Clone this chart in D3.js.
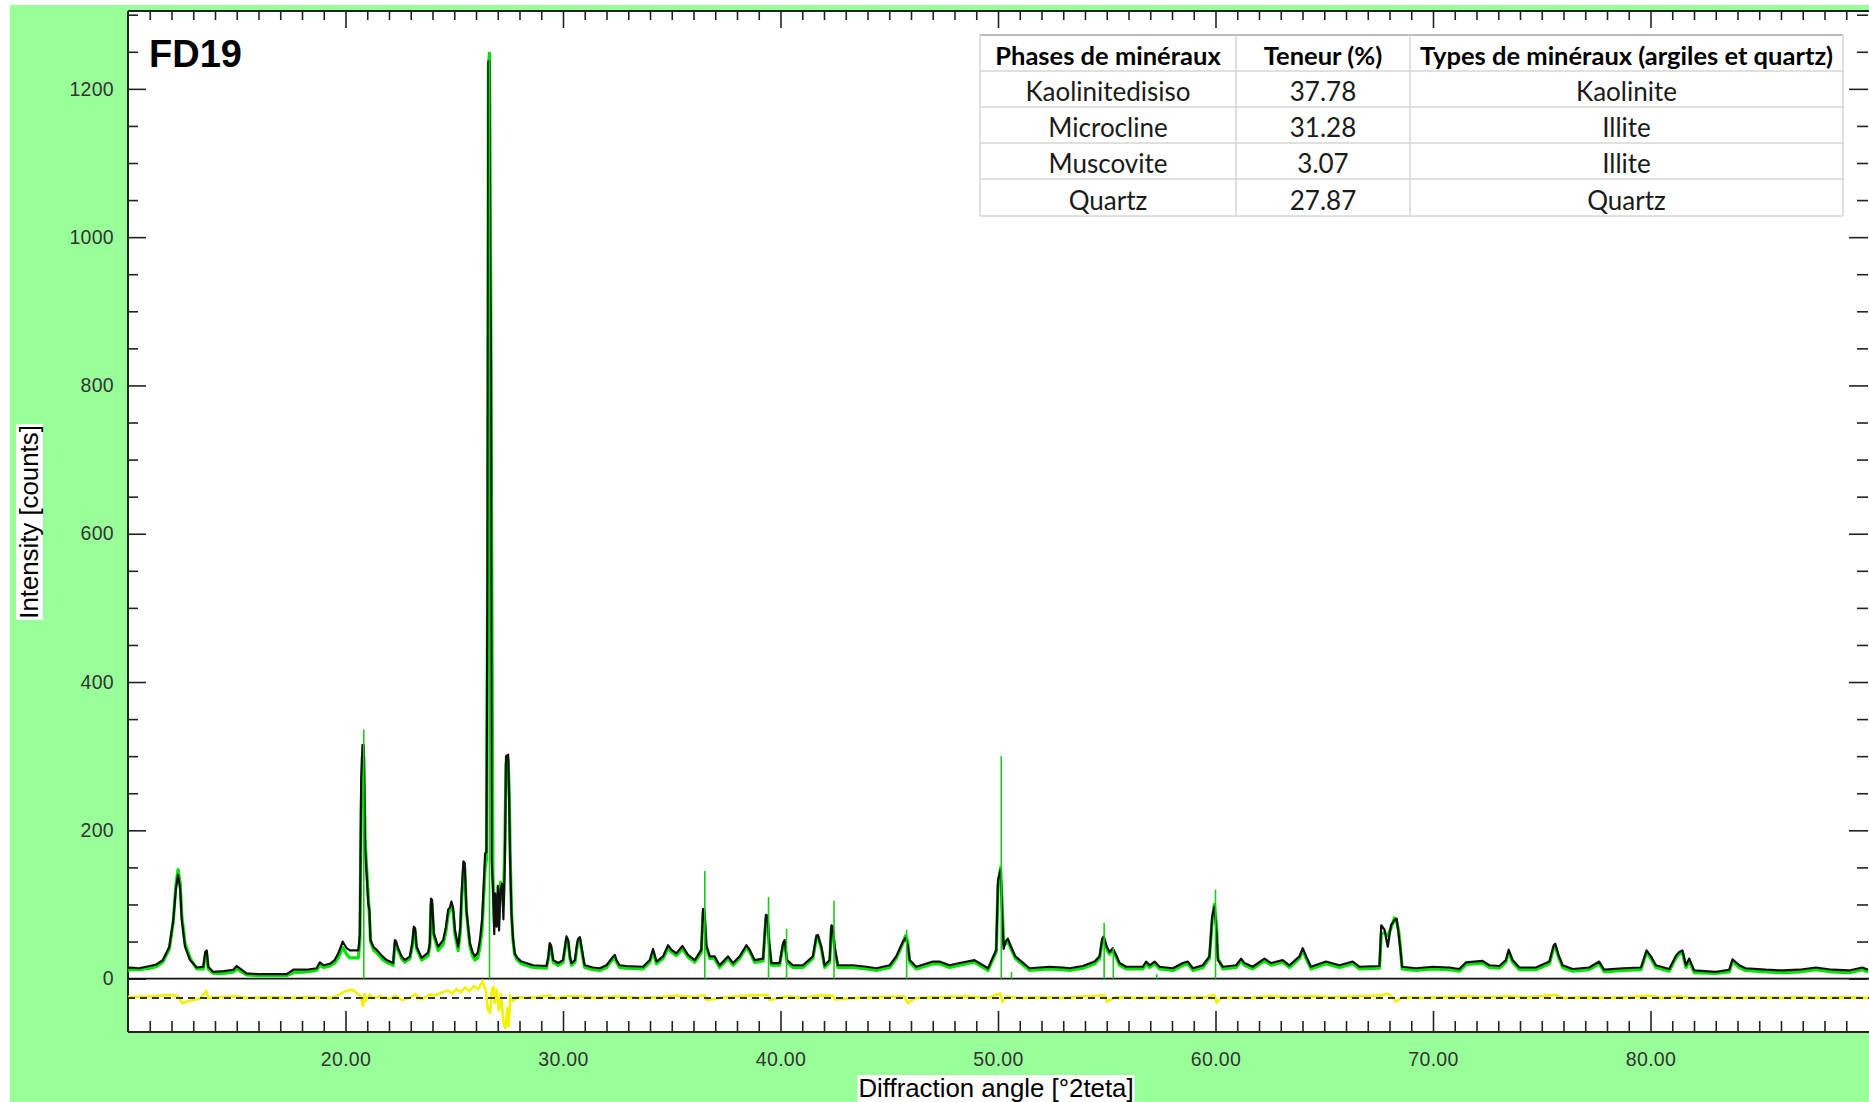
<!DOCTYPE html>
<html lang="en">
<head>
<meta charset="UTF-8">
<title>FD19 - diffractogramme</title>
<script src="https://d3js.org/d3.v7.min.js"></script>
<style>
  body { margin:0; background:#fff; }
  .tick text { font-family:"Liberation Sans", Arial, sans-serif; font-size:19.5px; fill:#333; letter-spacing:0.3px; }
  .tbl { font-family:Lato, "Open Sans", sans-serif; font-size:26px; fill:#1a1a1a; }
  .tbl.head { font-weight:bold; fill:#000; font-size:25.5px; }
</style>
</head>
<body>
<script>
// ---- data ----
var sampleName = "FD19";

var twoTheta = [
  10.0, 10.1, 10.5, 11.0, 11.3, 11.6, 11.9, 12.08, 12.2, 12.3,
  12.4, 12.47, 12.62, 12.85, 13.16, 13.46, 13.55, 13.62, 13.69, 13.92,
  14.4, 14.84, 15.0, 15.22, 15.45, 16.0, 16.6, 17.3, 17.6, 18.2,
  18.67, 18.82, 19.0, 19.28, 19.5, 19.67, 19.87, 20.05, 20.2, 20.59,
  20.66, 20.72, 20.78, 20.84, 20.9, 20.97, 21.05, 21.1, 21.15, 21.3,
  21.43, 21.7, 21.89, 22.19, 22.24, 22.27, 22.33, 22.39, 22.58, 22.73,
  22.96, 23.08, 23.14, 23.2, 23.27, 23.5, 23.8, 23.88, 23.93, 23.98,
  24.06, 24.26, 24.49, 24.62, 24.72, 24.8, 24.87, 24.95, 25.03, 25.18,
  25.28, 25.33, 25.42, 25.48, 25.56, 25.64, 25.72, 25.85, 25.95, 26.08,
  26.18, 26.28, 26.33, 26.42, 26.48, 26.53, 26.57, 26.62, 26.65, 26.69,
  26.72, 26.78, 26.84, 26.88, 26.95, 27.0, 27.06, 27.12, 27.2, 27.26,
  27.33, 27.38, 27.48, 27.53, 27.57, 27.63, 27.7, 27.78, 27.9, 28.09,
  28.63, 29.24, 29.33, 29.39, 29.45, 29.55, 29.78, 30.0, 30.1, 30.16,
  30.24, 30.32, 30.39, 30.55, 30.65, 30.7, 30.78, 30.85, 30.95, 31.0,
  31.38, 31.69, 32.0, 32.23, 32.38, 32.46, 32.6, 32.9, 33.68, 33.99,
  34.14, 34.3, 34.6, 34.83, 34.98, 35.21, 35.49, 35.75, 36.06, 36.36,
  36.44, 36.5, 36.59, 36.75, 36.97, 37.2, 37.59, 37.82, 38.12, 38.43,
  38.58, 38.81, 39.2, 39.33, 39.4, 39.47, 39.58, 39.96, 40.12, 40.19,
  40.3, 40.57, 41.03, 41.49, 41.65, 41.72, 41.88, 42.03, 42.26, 42.34,
  42.4, 42.49, 42.64, 43.33, 43.95, 44.4, 45.02, 45.32, 45.63, 45.75,
  45.85, 45.94, 46.24, 47.01, 47.31, 47.77, 48.23, 48.92, 49.54, 49.92,
  50.0, 50.12, 50.2, 50.26, 50.35, 50.45, 50.6, 50.8, 51.0, 51.45,
  52.37, 52.98, 53.29, 53.9, 54.44, 54.67, 54.79, 54.86, 55.0, 55.13,
  55.28, 55.43, 55.59, 55.89, 56.66, 56.81, 56.97, 57.2, 57.43, 58.04,
  58.5, 58.73, 58.96, 59.42, 59.72, 59.85, 59.95, 60.05, 60.11, 60.34,
  60.95, 61.18, 61.33, 61.71, 62.25, 62.56, 63.09, 63.4, 63.86, 64.01,
  64.17, 64.39, 65.08, 65.7, 66.31, 66.62, 67.54, 67.62, 67.77, 67.92,
  68.07, 68.23, 68.33, 68.42, 68.5, 68.58, 69.22, 69.99, 70.75, 71.21,
  71.52, 72.28, 72.59, 73.05, 73.35, 73.48, 73.66, 73.97, 74.73, 75.35,
  75.55, 75.62, 75.77, 75.96, 76.42, 77.18, 77.64, 77.87, 78.72, 79.56,
  79.82, 80.02, 80.25, 80.86, 81.17, 81.32, 81.47, 81.63, 81.78, 82.01,
  83.0, 83.62, 83.77, 84.08, 84.38, 85.3, 86.07, 86.83, 87.6, 88.37,
  89.13, 89.74, 90.0
];

var observed = [
  14, 15, 14, 17, 19, 25, 43, 79, 120, 140,
  121, 80, 43, 25, 15, 16, 36, 38, 16, 9,
  10, 12, 17, 12, 7, 6, 6, 6, 12, 12,
  14, 22, 18, 20, 25, 34, 50, 41, 38, 38,
  60, 268, 315, 315, 176, 142, 100, 93, 52, 42,
  39, 30, 25, 21, 40, 52, 50, 43, 30, 25,
  30, 50, 70, 68, 43, 28, 35, 48, 108, 106,
  61, 43, 52, 70, 93, 96, 104, 95, 66, 43,
  70, 111, 158, 156, 93, 70, 48, 35, 30, 35,
  52, 80, 111, 169, 170, 584, 1237, 1237, 995, 830,
  160, 120, 60, 115, 70, 125, 65, 120, 128, 80,
  160, 300, 302, 230, 158, 88, 55, 34, 28, 23,
  18, 17, 30, 48, 45, 25, 21, 25, 45, 57,
  52, 30, 21, 25, 48, 54, 56, 43, 25, 18,
  15, 14, 18, 27, 32, 25, 18, 17, 16, 25,
  40, 23, 30, 45, 39, 34, 44, 32, 25, 39,
  94, 92, 45, 30, 30, 18, 30, 21, 30, 45,
  39, 25, 27, 86, 85, 52, 21, 21, 48, 52,
  25, 18, 18, 30, 58, 59, 43, 18, 25, 72,
  70, 43, 18, 18, 16, 14, 18, 30, 50, 55,
  45, 25, 16, 23, 23, 18, 21, 25, 14, 39,
  133, 147, 80, 40, 50, 54, 43, 30, 25, 14,
  16, 15, 14, 17, 23, 30, 54, 57, 43, 36,
  41, 32, 21, 16, 16, 23, 18, 23, 16, 14,
  21, 23, 14, 18, 30, 84, 97, 60, 25, 16,
  18, 27, 21, 16, 27, 21, 25, 18, 30, 41,
  30, 16, 23, 18, 23, 16, 17, 72, 66, 43,
  72, 79, 81, 60, 39, 16, 14, 16, 15, 13,
  22, 24, 18, 17, 25, 39, 25, 15, 15, 23,
  45, 47, 32, 18, 13, 15, 23, 12, 14, 15,
  38, 30, 18, 13, 31, 36, 38, 18, 27, 11,
  9, 12, 26, 18, 14, 12, 11, 12, 15, 12,
  11, 15, 12
];

var calculated = [
  11, 12, 12, 14, 16, 22, 40, 76, 125, 147,
  128, 86, 48, 28, 13, 13, 30, 33, 13, 7,
  7, 9, 13, 9, 5, 4, 4, 4, 8, 9,
  11, 18, 15, 17, 21, 28, 42, 33, 28, 28,
  50, 220, 300, 300, 190, 150, 110, 85, 50, 38,
  35, 26, 22, 18, 34, 47, 47, 40, 27, 22,
  27, 45, 66, 64, 40, 25, 31, 44, 100, 100,
  58, 38, 46, 64, 86, 92, 98, 90, 60, 38,
  62, 100, 145, 150, 90, 66, 44, 30, 25, 28,
  42, 65, 95, 150, 160, 500, 1230, 1248, 1100, 830,
  600, 140, 75, 100, 80, 110, 80, 130, 122, 100,
  190, 290, 295, 250, 170, 92, 52, 32, 25, 20,
  15, 14, 27, 44, 42, 22, 18, 22, 41, 53,
  49, 27, 18, 22, 44, 51, 52, 40, 22, 15,
  12, 11, 15, 24, 29, 22, 15, 14, 13, 22,
  36, 20, 27, 41, 36, 31, 40, 29, 22, 35,
  90, 88, 42, 27, 27, 15, 27, 18, 27, 42,
  36, 22, 24, 82, 82, 49, 18, 18, 45, 49,
  22, 15, 15, 27, 55, 56, 40, 15, 22, 68,
  67, 40, 15, 15, 13, 11, 15, 27, 48, 58,
  50, 22, 13, 20, 20, 15, 18, 22, 11, 36,
  125, 150, 95, 45, 47, 51, 40, 27, 22, 11,
  13, 12, 11, 14, 20, 27, 50, 55, 40, 33,
  38, 29, 18, 13, 13, 20, 15, 20, 13, 11,
  18, 20, 11, 15, 27, 80, 100, 70, 28, 13,
  15, 24, 18, 13, 24, 18, 22, 15, 27, 38,
  27, 13, 20, 15, 20, 13, 14, 60, 62, 58,
  68, 82, 76, 65, 42, 13, 11, 13, 12, 10,
  19, 21, 15, 14, 22, 36, 22, 12, 12, 20,
  42, 44, 29, 15, 10, 12, 20, 9, 11, 12,
  35, 27, 15, 10, 28, 33, 35, 15, 24, 8,
  7, 9, 23, 15, 11, 9, 8, 9, 12, 9,
  8, 12, 9
];

// reflection sticks (green vertical lines from the zero line)
var stickAngle  = [20.84, 26.62, 36.52, 39.45, 40.28, 42.46, 45.8, 50.15, 50.62, 54.88, 55.3, 57.3, 60.0];
var stickHeight = [336, 1250, 145, 110, 67, 105, 66, 300, 9, 75, 42, 6, 120];

// difference curve (obs - calc), drawn around the dashed line
var diffAngle = [
  10.0, 11.0, 12.0, 12.3, 12.5, 12.7, 13.0, 13.3, 13.6, 13.7,
  14.2, 15.0, 15.5, 16.5, 17.5, 18.5, 19.3, 19.7, 20.0, 20.3,
  20.55, 20.7, 20.8, 20.87, 20.95, 21.1, 21.3, 21.6, 22.0, 22.3,
  22.6, 23.0, 23.2, 23.5, 23.9, 24.1, 24.4, 24.7, 24.9, 25.1,
  25.3, 25.5, 25.7, 25.9, 26.1, 26.3, 26.45, 26.55, 26.6, 26.65,
  26.72, 26.8, 26.86, 26.95, 27.05, 27.15, 27.25, 27.35, 27.45, 27.5,
  27.58, 27.7, 27.9, 28.3, 28.8, 29.4, 29.6, 30.2, 30.8, 31.5,
  32.4, 33.5, 34.5, 35.2, 36.0, 36.5, 36.6, 37.5, 38.5, 39.4,
  39.5, 40.3, 41.0, 41.7, 42.4, 42.5, 43.5, 44.5, 45.7, 45.85,
  46.2, 47.3, 48.5, 49.5, 50.1, 50.2, 50.4, 51.0, 52.0, 53.0,
  54.0, 54.9, 55.0, 55.4, 56.5, 57.5, 58.5, 59.5, 59.95, 60.05,
  60.3, 61.5, 62.5, 63.5, 64.5, 65.5, 66.5, 67.6, 67.9, 68.1,
  68.3, 68.6, 69.5, 70.5, 71.5, 72.5, 73.5, 74.5, 75.6, 76.0,
  77.0, 78.0, 79.0, 80.0, 80.5, 81.3, 82.0, 83.0, 84.0, 85.0,
  86.0, 87.0, 88.0, 89.0, 90.0
];
var diffValue = [
  1, 2, 4, 2, -7, -5, -3, -1, 9, 0,
  1, 2, 0, 1, 0, 1, 0, 4, 9, 11,
  6, 2, -12, 6, -3, 4, 0, 2, -1, 3,
  -3, 1, 5, -2, 5, 3, 7, 10, 6, 12,
  8, 14, 9, 16, 12, 22, 10, -18, -12, -22,
  8, 16, -8, 12, -18, 6, -30, -42, -12, -40,
  2, -4, 1, 0, 1, 3, -1, 2, 2, 0,
  2, 0, 1, 3, 1, 4, -3, 1, 3, 4,
  -3, 2, 0, 3, 3, -2, 0, 1, 2, -7,
  0, 1, 2, 0, 6, -5, 2, 0, 1, 0,
  2, 3, -5, 1, 0, 1, 0, 1, 4, -6,
  1, 0, 2, 1, 2, 1, 2, 3, 6, 2,
  -5, 1, 0, 1, 2, 1, 2, 1, 4, 0,
  1, 0, 1, 3, 0, 2, 0, 1, 0, 1,
  0, 1, 0, 1, 0
];
var diffBase = -26;

// tick labels
var xLabels = [20, 30, 40, 50, 60, 70, 80];
var yLabels = [0, 200, 400, 600, 800, 1000, 1200];

// phase table
var tableHeader = ["Phases de minéraux", "Teneur (%)", "Types de minéraux (argiles et quartz)"];
var phaseNames  = ["Kaolinitedisiso", "Microcline", "Muscovite", "Quartz"];
var phaseContent = ["37.78", "31.28", "3.07", "27.87"];
var phaseType   = ["Kaolinite", "Illite", "Illite", "Quartz"];

// ---- layout ----
var W = 1869, H = 1102;
var plotLeft = 128, plotTop = 11, plotRight = 1868, plotBottom = 1032;

var svg = d3.select("body").append("svg")
            .attr("width", W)
            .attr("height", H);

svg.append("rect").attr("x", 10).attr("y", 5)
   .attr("width", W - 10).attr("height", H - 5)
   .attr("fill", "#99ff99");
svg.append("rect").attr("x", plotLeft).attr("y", plotTop)
   .attr("width", W - plotLeft).attr("height", plotBottom - plotTop)
   .attr("fill", "#fff");

var x = d3.scaleLinear().domain([10, 90]).range([plotLeft, plotRight]);
var y = d3.scaleLinear().domain([-72, 1305]).range([plotBottom, plotTop]);

var xMinor = d3.range(11, 90).filter(function(d){ return d % 10 !== 0; });
var yMinor = d3.range(50, 1301, 50).filter(function(d){ return d % 200 !== 0; });

function clean(g){
  g.select(".domain").remove();
  g.selectAll(".tick line").attr("stroke", "#222").attr("stroke-width", 1.6);
}

// bottom
svg.append("g").attr("transform", "translate(0," + plotBottom + ")")
   .call(d3.axisBottom(x).tickValues(xLabels).tickSize(-21).tickPadding(20).tickFormat(d3.format(".2f")))
   .call(clean);
svg.append("g").attr("transform", "translate(0," + plotBottom + ")")
   .call(d3.axisBottom(x).tickValues(xMinor).tickSize(-11).tickFormat(""))
   .call(clean);
// top
svg.append("g").attr("transform", "translate(0," + plotTop + ")")
   .call(d3.axisTop(x).tickValues(xLabels).tickSize(-17).tickFormat(""))
   .call(clean);
svg.append("g").attr("transform", "translate(0," + plotTop + ")")
   .call(d3.axisTop(x).tickValues(xMinor).tickSize(-9).tickFormat(""))
   .call(clean);
// left
svg.append("g").attr("transform", "translate(" + plotLeft + ",0)")
   .call(d3.axisLeft(y).tickValues(yLabels).tickSize(-18).tickPadding(14).tickFormat(d3.format("d")))
   .call(clean);
svg.append("g").attr("transform", "translate(" + plotLeft + ",0)")
   .call(d3.axisLeft(y).tickValues(yMinor).tickSize(-10).tickFormat(""))
   .call(clean);
// right
svg.append("g").attr("transform", "translate(" + plotRight + ",0)")
   .call(d3.axisRight(y).tickValues(yLabels).tickSize(-19).tickFormat(""))
   .call(clean);
svg.append("g").attr("transform", "translate(" + plotRight + ",0)")
   .call(d3.axisRight(y).tickValues(yMinor).tickSize(-11).tickFormat(""))
   .call(clean);

// frame
var frame = svg.append("g").attr("stroke", "#222").attr("stroke-width", 2);
frame.append("line").attr("x1", plotLeft).attr("x2", plotLeft).attr("y1", plotTop).attr("y2", plotBottom);
frame.append("line").attr("x1", plotLeft).attr("x2", W).attr("y1", plotTop).attr("y2", plotTop);
frame.append("line").attr("x1", plotLeft).attr("x2", W).attr("y1", plotBottom).attr("y2", plotBottom);

// zero line
svg.append("line").attr("x1", plotLeft).attr("x2", W)
   .attr("y1", y(0)).attr("y2", y(0))
   .attr("stroke", "#111").attr("stroke-width", 1.6);

// difference curve + dashed reference
var diffLine = d3.line()
                 .x(function(d, i){ return x(diffAngle[i]); })
                 .y(function(d){ return y(diffBase + d); });
svg.append("path").attr("d", diffLine(diffValue))
   .attr("fill", "none").attr("stroke", "#f2f200").attr("stroke-width", 2.6);
svg.append("line").attr("x1", plotLeft).attr("x2", W)
   .attr("y1", y(diffBase)).attr("y2", y(diffBase))
   .attr("stroke", "#333").attr("stroke-width", 2).attr("stroke-dasharray", "7,5");

// calculated + observed
var scanLine = d3.line()
                 .x(function(d, i){ return x(twoTheta[i]); })
                 .y(function(d){ return y(d); });
svg.append("path").attr("d", scanLine(calculated))
   .attr("fill", "none").attr("stroke", "#00e400").attr("stroke-width", 3.2)
   .attr("stroke-linejoin", "round");
svg.append("path").attr("d", scanLine(observed))
   .attr("fill", "none").attr("stroke", "#111").attr("stroke-width", 2.2)
   .attr("stroke-linejoin", "round");

// sticks
svg.append("g").selectAll("line")
   .data(stickAngle)
   .enter().append("line")
   .attr("x1", function(d){ return x(d); })
   .attr("x2", function(d){ return x(d); })
   .attr("y1", y(0))
   .attr("y2", function(d, i){ return y(stickHeight[i]); })
   .attr("stroke", "#1ec81e").attr("stroke-width", 1.6);

// sample name
svg.append("text").attr("x", 149).attr("y", 67)
   .style("font-family", "'Liberation Sans', Arial, sans-serif")
   .style("font-size", "38px").style("font-weight", "bold")
   .text(sampleName);

// axis titles on white boxes
function boxedLabel(g, txt){
  var t = g.append("text").attr("text-anchor", "middle")
           .style("font-family", "'Liberation Sans', Arial, sans-serif")
           .style("font-size", "25.8px").attr("fill", "#000")
           .text(txt);
  var b = t.node().getBBox();
  g.insert("rect", "text").attr("x", b.x - 1).attr("y", b.y + 1)
   .attr("width", b.width + 2).attr("height", b.height - 1).attr("fill", "#fff");
}
boxedLabel(svg.append("g").attr("transform", "translate(996,1097)"), "Diffraction angle [°2teta]");
boxedLabel(svg.append("g").attr("transform", "translate(38,522) rotate(-90)"), "Intensity [counts]");

// table
var colEdges = [980, 1236, 1410, 1843];
var rowEdges = [35, 71, 107, 143, 179, 216];
var tbl = svg.append("g");
tbl.append("rect").attr("x", colEdges[0]).attr("y", rowEdges[0])
   .attr("width", colEdges[3] - colEdges[0]).attr("height", rowEdges[5] - rowEdges[0])
   .attr("fill", "#fff");
tbl.selectAll("line.h").data(rowEdges).enter().append("line")
   .attr("x1", colEdges[0]).attr("x2", colEdges[3])
   .attr("y1", function(d){ return d; }).attr("y2", function(d){ return d; })
   .attr("stroke", function(d, i){ return i === 0 ? "#bdbdbd" : "#d6d6d6"; })
   .attr("stroke-width", function(d, i){ return i === 0 ? 2 : 1.5; });
tbl.selectAll("line.v").data(colEdges).enter().append("line")
   .attr("x1", function(d){ return d; }).attr("x2", function(d){ return d; })
   .attr("y1", rowEdges[0]).attr("y2", rowEdges[5])
   .attr("stroke", "#d6d6d6").attr("stroke-width", 1.5);

var rows = [tableHeader].concat(phaseNames.map(function(n, i){
  return [n, phaseContent[i], phaseType[i]];
}));
rows.forEach(function(r, ri){
  r.forEach(function(cell, ci){
    tbl.append("text")
       .attr("class", ri === 0 ? "tbl head" : "tbl")
       .attr("x", (colEdges[ci] + colEdges[ci + 1]) / 2)
       .attr("y", (rowEdges[ri] + rowEdges[ri + 1]) / 2)
       .attr("dy", "0.48em")
       .attr("text-anchor", "middle")
       .text(cell);
  });
});
</script>
</body>
</html>
